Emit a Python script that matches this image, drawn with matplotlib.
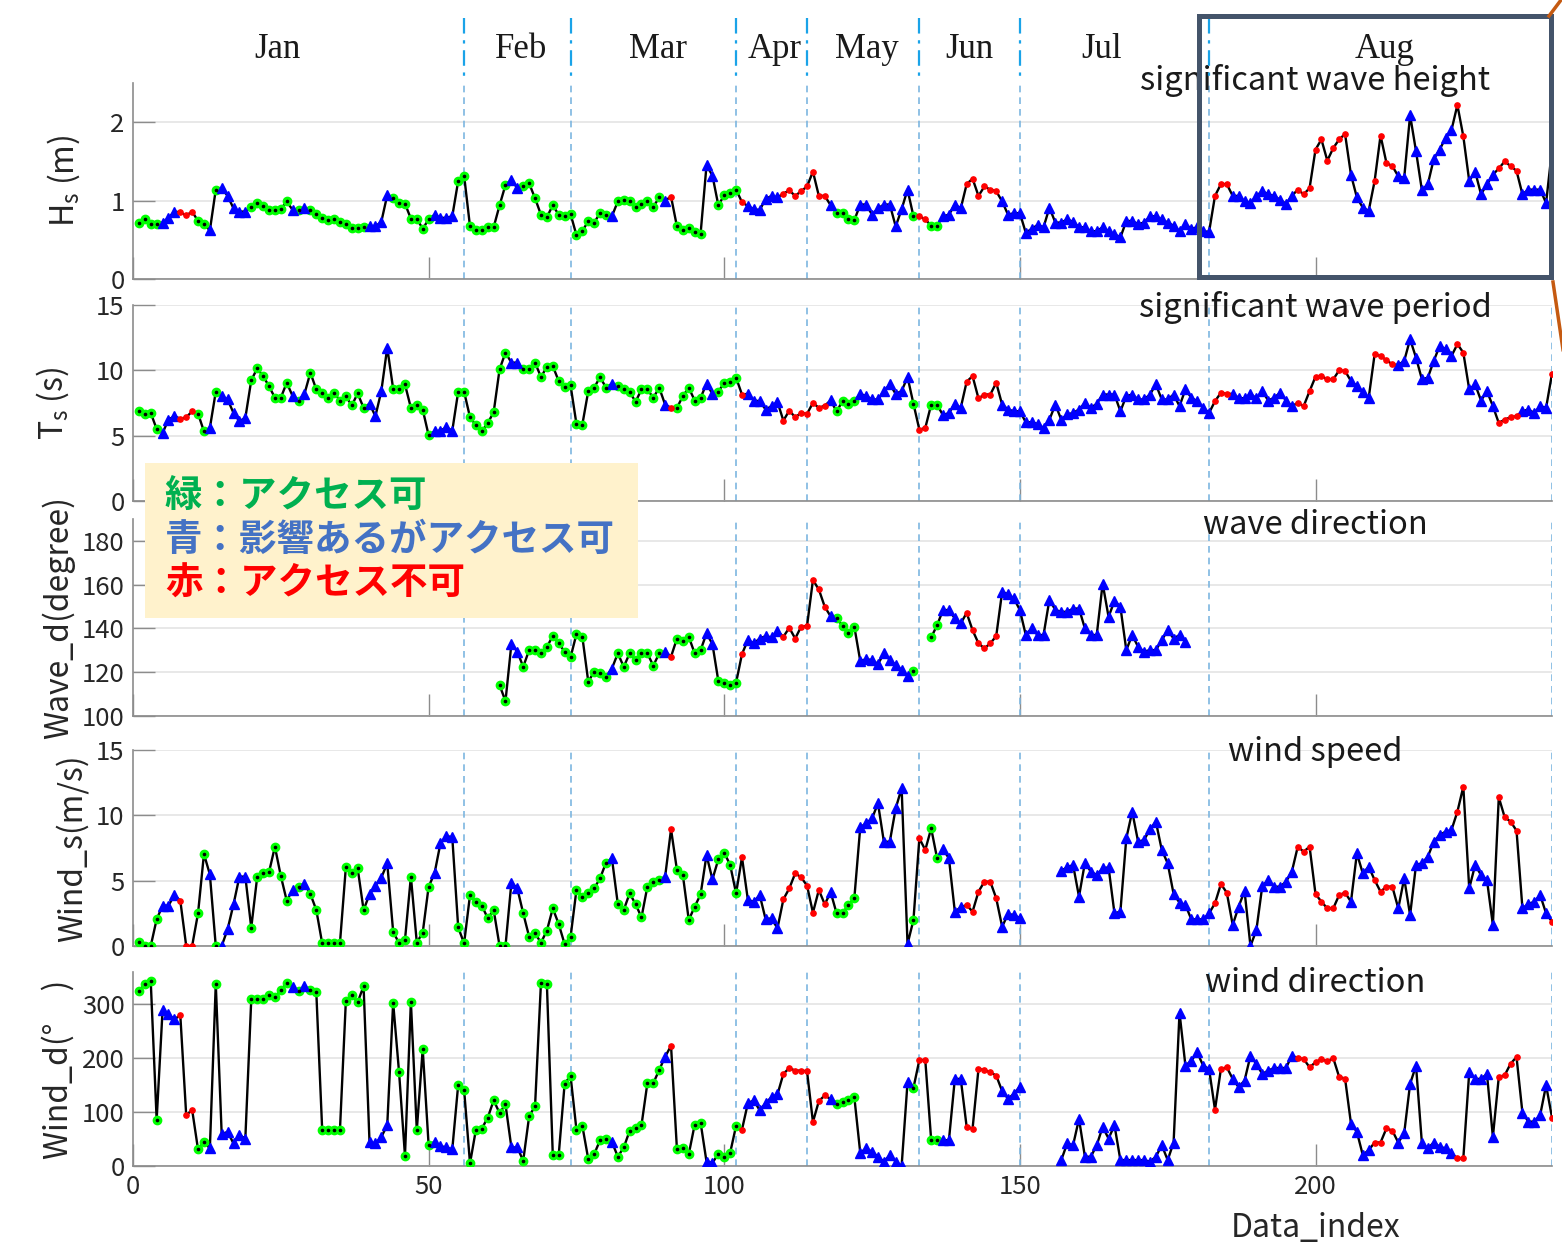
import numpy as np
import matplotlib
matplotlib.use("Agg")
import matplotlib.pyplot as plt
import matplotlib.transforms as mtransforms
from matplotlib.lines import Line2D
from matplotlib.patches import Rectangle

plt.rcParams['font.family'] = ['Noto Sans CJK JP', 'DejaVu Sans']

nan = np.nan

# Access status per data index (G: accessible, B: affected but accessible, R: not accessible)
status_runs = [
    ("G", 4), ("B", 3), ("R", 3), ("G", 2), ("B", 1), ("G", 1), ("B", 5), ("G", 7),
    ("B", 1), ("G", 1), ("B", 1), ("G", 10), ("B", 4), ("G", 7), ("B", 4), ("G", 9),
    ("B", 2), ("G", 15), ("B", 1), ("G", 8), ("B", 1), ("R", 1), ("G", 5), ("B", 2),
    ("G", 4), ("R", 1), ("B", 6), ("R", 8), ("B", 1), ("G", 4), ("B", 9), ("G", 1),
    ("R", 2), ("G", 2), ("B", 4), ("R", 6), ("B", 36), ("R", 3), ("B", 11), ("R", 9),
    ("B", 4), ("R", 4), ("B", 10), ("R", 2), ("B", 5), ("R", 4), ("B", 5), ("R", 1),
]

# Significant wave height (m)
hs = [
    0.72, 0.76, 0.70, 0.70, 0.72, 0.78, 0.86, 0.85, 0.81, 0.86,
    0.74, 0.70, 0.62, 1.14, 1.16, 1.06, 0.90, 0.86, 0.86, 0.92,
    0.97, 0.93, 0.88, 0.88, 0.89, 0.99, 0.88, 0.88, 0.91, 0.88,
    0.83, 0.78, 0.75, 0.76, 0.73, 0.70, 0.65, 0.65, 0.66, 0.68,
    0.67, 0.73, 1.07, 1.03, 0.97, 0.96, 0.77, 0.77, 0.64, 0.76,
    0.82, 0.78, 0.78, 0.80, 1.25, 1.32, 0.67, 0.62, 0.62, 0.66,
    0.66, 0.94, 1.20, 1.26, 1.16, 1.18, 1.22, 1.03, 0.82, 0.79,
    0.94, 0.82, 0.80, 0.83, 0.56, 0.61, 0.74, 0.72, 0.84, 0.81,
    0.80, 0.99, 1.01, 1.00, 0.92, 0.96, 1.00, 0.92, 1.04, 1.00,
    1.05, 0.67, 0.62, 0.65, 0.60, 0.58, 1.45, 1.32, 0.94, 1.07,
    1.10, 1.14, 0.98, 0.93, 0.89, 0.88, 1.02, 1.06, 1.04, 1.09,
    1.13, 1.06, 1.12, 1.18, 1.37, 1.06, 1.06, 0.94, 0.84, 0.84,
    0.77, 0.75, 0.95, 0.95, 0.82, 0.90, 0.95, 0.95, 0.67, 0.89,
    1.14, 0.80, 0.80, 0.76, 0.68, 0.68, 0.80, 0.82, 0.95, 0.90,
    1.21, 1.28, 1.06, 1.18, 1.14, 1.12, 0.99, 0.82, 0.84, 0.84,
    0.59, 0.64, 0.69, 0.66, 0.91, 0.72, 0.72, 0.76, 0.73, 0.66,
    0.66, 0.61, 0.61, 0.66, 0.61, 0.57, 0.53, 0.74, 0.74, 0.70,
    0.72, 0.80, 0.80, 0.76, 0.72, 0.68, 0.61, 0.70, 0.64, 0.66,
    0.61, 0.60, 1.06, 1.21, 1.21, 1.06, 1.06, 0.99, 0.97, 1.06,
    1.12, 1.08, 1.06, 1.01, 0.96, 1.06, 1.14, 1.08, 1.16, 1.65,
    1.78, 1.51, 1.67, 1.78, 1.85, 1.33, 1.04, 0.91, 0.87, 1.25,
    1.83, 1.48, 1.44, 1.31, 1.29, 2.09, 1.63, 1.13, 1.21, 1.53,
    1.65, 1.80, 1.90, 2.22, 1.82, 1.25, 1.37, 1.08, 1.21, 1.33,
    1.41, 1.50, 1.44, 1.38, 1.08, 1.14, 1.14, 1.14, 0.97, 1.65,
]

# Significant wave period (s)
ts = [
    6.87, 6.67, 6.74, 5.51, 5.20, 6.23, 6.49, 6.30, 6.40, 6.87,
    6.69, 5.33, 5.59, 8.36, 8.03, 7.77, 6.74, 6.10, 6.36, 9.23,
    10.15, 9.56, 8.79, 7.90, 7.90, 9.05, 8.03, 7.69, 8.20, 9.82,
    8.54, 8.23, 7.90, 8.28, 7.69, 8.03, 7.31, 8.23, 7.13, 7.44,
    6.49, 8.41, 11.74, 8.59, 8.59, 8.92, 7.13, 7.38, 7.00, 5.03,
    5.33, 5.38, 5.64, 5.38, 8.36, 8.36, 6.41, 5.79, 5.33, 5.97,
    6.79, 10.08, 11.36, 10.59, 10.59, 10.08, 10.08, 10.59, 9.49, 10.26,
    10.33, 9.18, 8.72, 8.87, 5.90, 5.85, 8.41, 8.67, 9.49, 8.67,
    8.97, 8.79, 8.54, 8.36, 7.59, 8.54, 8.54, 7.90, 8.67, 7.38,
    7.13, 7.13, 8.03, 8.67, 7.69, 7.90, 8.97, 8.20, 8.36, 9.05,
    9.10, 9.44, 8.15, 8.20, 7.69, 7.64, 7.00, 7.26, 7.59, 6.15,
    6.92, 6.41, 6.74, 6.67, 7.51, 7.13, 7.30, 7.70, 6.85, 7.64,
    7.44, 7.64, 8.20, 8.03, 7.77, 7.77, 8.41, 8.92, 8.20, 8.41,
    9.49, 7.44, 5.46, 5.59, 7.38, 7.38, 6.56, 6.74, 7.44, 7.13,
    9.13, 9.56, 7.85, 8.15, 8.15, 9.05, 7.38, 7.00, 6.87, 6.87,
    6.03, 6.03, 5.90, 5.59, 6.23, 7.38, 6.23, 6.62, 6.74, 7.00,
    7.51, 7.13, 7.44, 8.15, 8.15, 8.15, 6.87, 8.03, 8.15, 7.77,
    7.77, 8.15, 8.92, 7.77, 7.77, 8.15, 7.26, 8.54, 7.90, 7.64,
    7.13, 6.74, 7.64, 8.28, 8.20, 8.20, 7.90, 7.85, 8.20, 7.85,
    8.41, 7.69, 7.90, 8.28, 7.69, 7.26, 7.51, 7.26, 8.41, 9.51,
    9.56, 9.31, 9.31, 10.00, 9.95, 9.18, 8.79, 8.36, 7.90, 11.23,
    11.10, 10.77, 10.46, 10.41, 10.72, 12.38, 10.97, 9.31, 9.44, 10.72,
    11.87, 11.62, 11.10, 12.00, 11.36, 8.54, 8.92, 7.69, 8.41, 7.26,
    5.97, 6.23, 6.41, 6.49, 6.87, 7.00, 6.74, 7.26, 7.13, 9.74,
]

# Wave direction (degree)
wave_dir = [nan] * 61 + [
    114.1, 106.8, 132.9, 129.4, 122.5, 130.1, 130.1, 128.6, 131.6,
    136.5, 133.2, 129.4, 126.8, 137.4, 136.2, 115.7, 120.2, 119.5, 117.9,
    121.7, 128.6, 122.5, 128.6, 125.6, 128.6, 128.6, 123.0, 128.6, 129.4,
    127.1, 135.4, 134.4, 136.2, 128.6, 130.1, 137.7, 132.9, 116.0, 115.2,
    114.1, 115.2, 128.3, 134.7, 133.2, 135.4, 136.5, 135.9, 138.8, 136.2,
    140.3, 135.4, 140.8, 141.1, 162.1, 157.8, 149.9, 145.5, 145.0, 141.1,
    138.0, 140.8, 125.2, 125.9, 125.6, 123.7, 128.6, 125.6, 123.3, 121.0,
    118.3, 120.7, nan, nan, 135.9, 141.5, 148.4, 148.4, 144.6, 142.3,
    147.1, 139.2, 133.2, 130.9, 133.2, 136.5, 156.7, 155.7, 153.7, 148.4,
    137.0, 140.0, 137.0, 137.0, 153.2, 148.4, 147.6, 147.6, 149.1, 149.1,
    140.0, 137.0, 137.0, 160.5, 145.3, 152.6, 149.9, 130.1, 137.0, 131.6,
    129.4, 130.1, 130.1, 134.7, 139.2, 135.4, 137.0, 133.9,
] + [nan] * 62

# Wind speed (m/s)
wind_speed = [
    0.28, 0.0, 0.0, 2.04, 3.09, 3.09, 3.90, 3.47, 0.0, 0.0,
    2.50, 7.04, 5.48, 0.0, 0.0, 1.28, 3.19, 5.31, 5.31, 1.40,
    5.26, 5.56, 5.64, 7.60, 5.36, 3.47, 4.29, 4.54, 4.74, 3.98,
    2.76, 0.20, 0.20, 0.20, 0.20, 6.02, 5.56, 5.94, 2.76, 3.95,
    4.62, 5.23, 6.33, 1.10, 0.20, 0.46, 5.31, 0.26, 1.02, 4.54,
    5.56, 7.86, 8.42, 8.32, 1.43, 0.20, 3.90, 3.39, 3.09, 2.12,
    2.76, 0.0, 0.0, 4.85, 4.41, 2.50, 0.71, 0.97, 0.26, 1.17,
    2.88, 1.68, 0.15, 0.66, 4.29, 3.78, 4.03, 4.41, 5.18, 6.38,
    6.71, 3.21, 2.76, 4.03, 3.21, 2.19, 4.54, 4.92, 5.05, 5.31,
    8.93, 5.82, 5.43, 1.99, 3.01, 3.95, 6.96, 5.10, 6.63, 7.14,
    6.20, 4.03, 6.79, 3.52, 3.39, 3.90, 2.04, 2.12, 1.35, 3.57,
    4.41, 5.56, 5.26, 4.62, 2.55, 4.29, 3.19, 4.12, 2.50, 2.50,
    3.14, 3.65, 9.08, 9.39, 9.77, 10.92, 7.98, 7.98, 10.54, 12.07,
    0.15, 1.99, 8.24, 7.35, 9.00, 6.71, 7.40, 6.71, 2.63, 2.96,
    3.14, 2.63, 4.16, 4.92, 4.92, 3.65, 1.48, 2.45, 2.37, 2.12,
    nan, nan, nan, nan, nan, nan, 5.77, 6.02, 6.20, 3.78,
    6.38, 5.69, 5.43, 5.94, 6.02, 2.50, 2.63, 8.24, 10.28, 7.98,
    8.11, 8.93, 9.52, 7.35, 6.33, 3.98, 3.32, 3.14, 2.04, 2.04,
    2.04, 2.50, 3.27, 4.74, 4.08, 1.61, 3.01, 4.21, 0.0, 1.22,
    4.59, 5.05, 4.54, 4.54, 4.92, 5.69, 7.60, 7.22, 7.60, 3.98,
    3.39, 2.88, 2.88, 3.90, 4.08, 3.39, 7.09, 5.56, 6.07, 5.05,
    4.16, 4.54, 4.54, 2.88, 5.18, 2.37, 6.20, 6.33, 6.84, 7.98,
    8.50, 8.75, 8.88, 10.28, 12.19, 4.41, 6.20, 5.43, 5.05, 1.61,
    11.38, 9.85, 9.52, 8.83, 2.88, 3.21, 3.39, 3.90, 2.50, 1.86,
]

# Wind direction (degree)
wind_dir = [
    324.5, 338, 343, 86, 289, 281.5, 272, 280, 94, 104.5,
    30.7, 44.9, 32.6, 338, 59, 63.3, 41.8, 57.2, 51, 309,
    309, 309, 316.5, 313.5, 325.8, 340, 332, 324.5, 333.7, 325.8,
    323.3, 66.4, 66.4, 66.4, 66.4, 306, 316.5, 304, 333.7, 44.9,
    41.8, 54, 75.6, 303, 174, 19, 305, 66.4, 217, 38.7,
    44.9, 36.9, 34.4, 30.7, 150.6, 141.4, 4.9, 67.6, 69.5, 89.7,
    121.7, 98.3, 114.3, 34.4, 34.4, 9.8, 92.2, 111.2, 340, 338,
    20.3, 20.3, 152.4, 167.8, 67.6, 74.4, 12.9, 22.1, 47.9, 49.2,
    44.9, 17.2, 34.4, 65.2, 71.3, 75.6, 153.7, 153.7, 178.2, 202.8,
    223.1, 30.7, 32.6, 22.1, 76.8, 80.5, 8, 6.1, 22.1, 17.2,
    24.6, 74.4, 67.6, 116.8, 121.7, 103.3, 116.8, 127.8, 132.8, 170.9,
    181.9, 177, 177, 175.8, 81.7, 120.5, 130.9, 124, 114.3, 118.6,
    121.7, 127.8, 24.6, 32.6, 26.4, 17.2, 8, 20.3, 8, 0,
    155.5, 145, 196.7, 196.7, 47.9, 47.9, 47.9, 47.9, 161.6, 161.6,
    72.5, 69.5, 180, 178.2, 174, 167.8, 139, 124.8, 134, 147.5,
    nan, nan, nan, nan, nan, nan, 11, 41.8, 38.7, 87.4,
    17.2, 17.2, 38.7, 72.5, 51, 75.6, 11, 11, 11, 11,
    11, 8, 17.2, 38.7, 11, 43.6, 284.6, 186.2, 195.4, 210.8,
    186.2, 180, 104.5, 180, 183.2, 161.6, 146.3, 158.6, 204.7, 189.3,
    170.9, 177, 181.9, 181.9, 181.9, 204.7, 200.4, 198.5, 183.2, 192.4,
    198.5, 194.2, 200.4, 165.3, 162.3, 78.7, 63.3, 20.3, 29.5, 43.6,
    43.6, 69.9, 65.6, 43.6, 60.8, 152.4, 186.2, 41.8, 32.6, 43.6,
    35.7, 32.6, 23.4, 14.1, 14.1, 174, 161.6, 161.6, 170.9, 54,
    165.3, 168.4, 189.9, 202.2, 98.9, 82.3, 82.3, 94.6, 149.9, 90,
]

# Month boundaries (data index) and month label anchors
month_bounds = [56, 74, 102, 114, 133, 150, 182, 240]
month_names = ["Jan", "Feb", "Mar", "Apr", "May", "Jun", "Jul", "Aug"]
month_label_x = [24.4, 65.7, 88.8, 108.5, 124.2, 141.5, 163.9, 211.7]

legend_lines = [
    ("緑：アクセス可", "#00B050"),
    ("青：影響あるがアクセス可", "#4472C4"),
    ("赤：アクセス不可", "#FF0000"),
]

status = np.array([c for c, n in status_runs for _ in range(n)])
index = np.arange(1, len(status) + 1)

W, H = 1562, 1246
fig = plt.figure(figsize=(W / 100, H / 100), dpi=100)


def fig_box(left, top, right, bottom):
    return [left / W, 1 - bottom / H, (right - left) / W, (bottom - top) / H]


panels = [
    dict(y=hs, ylim=(0, 2.5), yticks=[0, 1, 2], label=r'H$_\mathregular{s}$ (m)',
         title='significant wave height', ty=1.015, box=(133, 83, 1552, 279), lx=-0.036),
    dict(y=ts, ylim=(0, 15), yticks=[0, 5, 10, 15], label=r'T$_\mathregular{s}$ (s)',
         title='significant wave period', ty=0.985, box=(133, 305, 1552, 501), lx=-0.044),
    dict(y=wave_dir, ylim=(100, 190), yticks=[100, 120, 140, 160, 180], label='Wave_d(degree)',
         title='wave direction', ty=0.97, box=(133, 519, 1552, 716), lx=-0.041),
    dict(y=wind_speed, ylim=(0, 15), yticks=[0, 5, 10, 15], label='Wind_s(m/s)',
         title='wind speed', ty=0.99, box=(133, 750, 1552, 946), lx=-0.031),
    dict(y=wind_dir, ylim=(0, 360), yticks=[0, 100, 200, 300], label='Wind_d(°\u3000)',
         title='wind direction', ty=0.943, box=(133, 972, 1552, 1166), lx=-0.041),
]

style = {
    "G": dict(marker='o', color='#00FF00', ms=6.0),
    "B": dict(marker='^', color='#0000FF', ms=7.5),
    "R": dict(marker='o', color='#FF0000', ms=3.8),
}

axes = []
for i, p in enumerate(panels):
    ax = fig.add_axes(fig_box(*p["box"]))
    axes.append(ax)
    y = np.array(p["y"], dtype=float)
    ax.plot(index, y, color='black', lw=1.7, zorder=3)
    for key, st in style.items():
        m = status == key
        ax.plot(index[m], y[m], linestyle='none', marker=st["marker"], ms=st["ms"],
                mfc=st["color"], mec=st["color"], zorder=4)
    g = status == "G"
    ax.plot(index[g], y[g], linestyle='none', marker='o', ms=1.6, mfc='black',
            mec='black', zorder=5)

    for b in month_bounds:
        ax.axvline(b, color='#7DB6E0', lw=1.2, ls=(0, (4, 3)), zorder=1)

    ax.set_xlim(0, 240)
    ax.set_ylim(*p["ylim"])
    ax.set_yticks(p["yticks"])
    ax.set_xticks([0, 50, 100, 150, 200])
    ax.yaxis.grid(True, color='#E6E6E6', lw=1.3)
    ax.set_axisbelow(True)
    for s in ("top", "right"):
        ax.spines[s].set_visible(False)
    for s in ("left", "bottom"):
        ax.spines[s].set_color('#8C8C8C')
        ax.spines[s].set_linewidth(1.2)
    ax.tick_params(direction='in', length=16, width=1.0, color='#8C8C8C',
                   labelsize=18.5, labelcolor='#262626', pad=6)
    if i < len(panels) - 1:
        ax.tick_params(axis='x', labelbottom=False)
    ax.set_ylabel(p["label"], fontsize=23, color='#262626')
    ax.yaxis.set_label_coords(p["lx"], 0.5)
    ax.text(200, p["ty"], p["title"], transform=mtransforms.blended_transform_factory(
        ax.transData, ax.transAxes), ha='center', va='center', fontsize=23.5,
        color='#1A1A1A', zorder=6)

bottom_ax = axes[-1]
bottom_ax.text(200, 1 - 1228 / H, "Data_index", fontsize=23, color='#262626',
               ha='center', va='center',
               transform=mtransforms.blended_transform_factory(bottom_ax.transData, fig.transFigure))

# Month header with separators above the top panel
top_ax = axes[0]
hdr = mtransforms.blended_transform_factory(top_ax.transData, fig.transFigure)
for name, mx in zip(month_names, month_label_x):
    fig.text(mx, 1 - 49 / H, name, transform=hdr, ha='center', va='center',
             fontsize=25, family=['Liberation Serif', 'DejaVu Serif'], color='#1A1A1A')
for b in month_bounds[:-1]:
    fig.add_artist(Line2D([b, b], [1 - 18 / H, 1 - 80 / H], transform=hdr,
                          color='#1AA3E8', lw=1.6, ls=(0, (7, 3, 1.5, 3))))

# Highlight box around August in the top panel, with callout lines
fig.add_artist(Rectangle((1199 / W, 1 - 277 / H), (1551 - 1199) / W, (277 - 16) / H,
                         transform=fig.transFigure, fill=False, edgecolor='#44546A',
                         lw=3.6, zorder=20))
fig.add_artist(Line2D([1549 / W, 1570 / W], [1 - 16 / H, 1 + 12 / H],
                      transform=fig.transFigure, color='#C55A11', lw=2.5, zorder=21))
fig.add_artist(Line2D([1553 / W, 1566 / W], [1 - 282 / H, 1 - 370 / H],
                      transform=fig.transFigure, color='#C55A11', lw=2.5, zorder=21))

# Legend card
fig.add_artist(Rectangle((145 / W, 1 - 618 / H), (638 - 145) / W, (618 - 463) / H,
                         transform=fig.transFigure, facecolor='#FFF2CC',
                         edgecolor='none', zorder=20))
for k, (txt, col) in enumerate(legend_lines):
    fig.text(165 / W, 1 - (495 + 44 * k) / H, txt, color=col, fontsize=27,
             fontweight='bold', ha='left', va='center', zorder=21)

fig.savefig("out.png", dpi=100, facecolor='white')
